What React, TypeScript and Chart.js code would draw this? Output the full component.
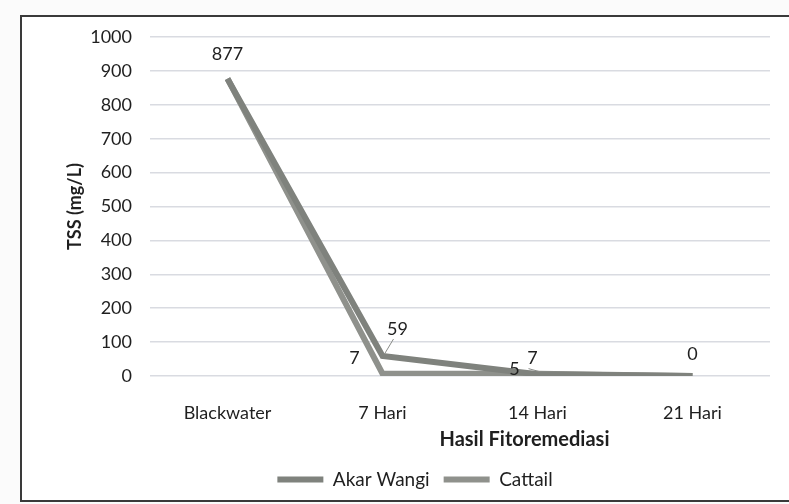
import React, { useEffect, useRef } from "react";
import { Chart, registerables } from "chart.js";
Chart.register(...registerables);

const categories = ["Blackwater", "7 Hari", "14 Hari", "21 Hari"];
const akarWangi = [877, 59, 5, 0];
const cattail = [877, 7, 7, 0];
const seriesNames = ["Akar Wangi", "Cattail"];
const yMin = 0;
const yMax = 1000;
const yStep = 100;
const yTitle = "TSS (mg/L)";
const xTitle = "Hasil Fitoremediasi";

// label placement: [datasetIndex, pointIndex, dx, dy, leader]
const labelPlacement: Array<[number, number, number, number, boolean]> = [
  [0, 0, 0, -25, false],
  [0, 1, 15, -27, true],
  [1, 1, -28, -15, false],
  [0, 2, -23, -5, false],
  [1, 2, -5, -15, true],
  [1, 3, 0, -22, false],
];

const FONT = "Lato, 'Open Sans', sans-serif";
const TEXT = "#1f1f1f";

export default function App() {
  const ref = useRef<HTMLCanvasElement | null>(null);
  useEffect(() => {
    if (!ref.current) return;
    const labelsPlugin = {
      id: "pointLabels",
      afterDatasetsDraw(chart: any) {
        const ctx = chart.ctx;
        ctx.save();
        ctx.font = `18px ${FONT}`;
        ctx.fillStyle = TEXT;
        ctx.textAlign = "center";
        ctx.textBaseline = "middle";
        for (const [di, pi, dx, dy, leader] of labelPlacement) {
          const el = chart.getDatasetMeta(di).data[pi];
          const v = chart.data.datasets[di].data[pi];
          const x = el.x + dx;
          const y = el.y + dy;
          ctx.fillText(String(v), x, y);
          if (leader) {
            ctx.strokeStyle = "#8a8c88";
            ctx.lineWidth = 1;
            ctx.beginPath();
            ctx.moveTo(x - 4, y + 10);
            ctx.lineTo(el.x + 2, el.y - 2);
            ctx.stroke();
          }
        }
        const area = chart.chartArea;
        ctx.font = `bold 20px ${FONT}`;
        ctx.fillStyle = TEXT;
        ctx.fillText(xTitle, area.left + (area.right - area.left) * 0.604, area.bottom + 64);
        ctx.restore();
      },
    };
    const chart = new Chart(ref.current, {
      type: "line",
      data: {
        labels: categories,
        datasets: [
          {
            label: seriesNames[0],
            data: akarWangi,
            borderColor: "#7f827d",
            backgroundColor: "#7f827d",
            borderWidth: 6,
            pointRadius: 0,
            tension: 0,
          },
          {
            label: seriesNames[1],
            data: cattail,
            borderColor: "#8f918c",
            backgroundColor: "#8f918c",
            borderWidth: 6,
            pointRadius: 0,
            tension: 0,
          },
        ],
      },
      options: {
        animation: false,
        responsive: false,
        maintainAspectRatio: false,
        layout: { padding: { left: 60, right: 98, top: 37, bottom: 5 } },
        plugins: {
          tooltip: { enabled: false },
          legend: {
            position: "bottom",
            labels: {
              usePointStyle: true,
              pointStyle: "line",
              pointStyleWidth: 46,
              padding: 14,
              color: TEXT,
              font: { family: FONT, size: 19 },
            },
          },
        },
        scales: {
          x: {
            offset: true,
            grid: { display: false, offset: true },
            border: { display: false },
            ticks: { color: TEXT, font: { family: FONT, size: 18 }, padding: 18 },
            afterFit: (s: any) => {
              s.height = 80;
            },
          },
          y: {
            min: yMin,
            max: yMax,
            grid: { color: "#d9dbe1", lineWidth: 1.5, drawTicks: false },
            border: { display: false },
            ticks: {
              stepSize: yStep,
              color: TEXT,
              font: { family: FONT, size: 18 },
              padding: 18,
              callback: (v: any) => String(v),
            },
            title: {
              display: true,
              text: yTitle,
              color: TEXT,
              font: { family: FONT, size: 18, weight: "bold" },
              padding: { top: 4, bottom: 4 },
            },
            afterFit: (s: any) => {
              s.width = 90;
            },
          },
        },
      },
      plugins: [labelsPlugin],
    });
    return () => chart.destroy();
  }, []);
  return (
    <div
      style={{
        position: "fixed",
        left: 0,
        top: 0,
        width: 789,
        height: 504,
        overflow: "hidden",
        background: "#fbfbfb",
      }}
    >
      <div
        style={{
          position: "absolute",
          left: 20,
          top: 15,
          width: 840,
          height: 483,
          border: "2px solid #3a3a3a",
          background: "#ffffff",
        }}
      />
      <canvas
        ref={ref}
        width={868}
        height={504}
        style={{ position: "absolute", left: 0, top: 0, width: 868, height: 504 }}
      />
    </div>
  );
}
